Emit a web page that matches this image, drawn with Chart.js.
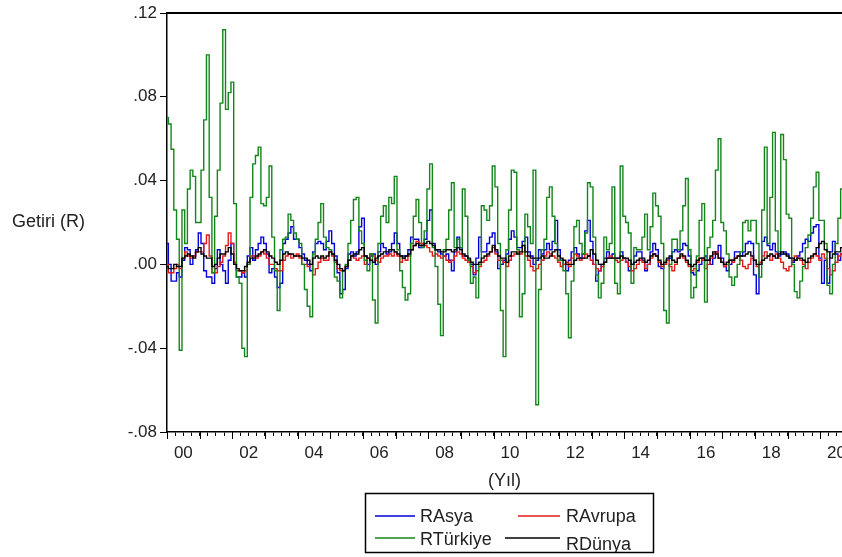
<!DOCTYPE html>
<html>
<head>
<meta charset="utf-8">
<title>Getiri (R)</title>
<script src="https://cdn.jsdelivr.net/npm/chart.js@4.4.1/dist/chart.umd.min.js"></script>
<style>
    html, body { margin: 0; padding: 0; background: #fff; }
    #wrap { width: 842px; height: 557px; }
</style>
</head>
<body>
<div id="wrap"><canvas id="returnChart" width="842" height="557"></canvas></div>
<script>
// monthly returns, 2000M01 onwards (one row per year)
const startYear = 2000;

const rAsya = [
    0.010, 0.000, -0.008, -0.008, -0.004, -0.006, 0.002, 0.008, 0.007, 0.000, 0.004, 0.007,
    0.015, 0.010, -0.003, -0.006, -0.006, -0.009, -0.002, 0.007, 0.000, -0.003, -0.009, 0.002,
    0.010, 0.000, -0.006, -0.006, -0.004, -0.006, 0.004, 0.008, 0.002, 0.007, 0.010, 0.013,
    0.010, 0.005, -0.004, -0.002, -0.006, -0.011, -0.009, 0.010, 0.012, 0.015, 0.018, 0.012,
    0.012, 0.008, 0.005, 0.002, 0.000, -0.003, 0.006, 0.010, 0.011, 0.010, 0.007, 0.011,
    0.016, 0.010, 0.004, -0.004, -0.014, -0.012, -0.002, 0.005, 0.006, 0.004, 0.006, 0.018,
    0.022, 0.004, 0.000, 0.004, 0.005, 0.000, 0.006, 0.010, 0.008, 0.005, 0.006, 0.010,
    0.015, 0.010, 0.004, 0.004, 0.004, 0.007, 0.013, 0.012, 0.012, 0.008, 0.009, 0.012,
    0.021, 0.026, 0.010, 0.007, 0.006, 0.005, 0.004, 0.005, 0.002, -0.003, 0.006, 0.013,
    0.008, 0.004, 0.004, 0.002, 0.000, -0.005, 0.003, 0.013, 0.006, 0.006, 0.010, 0.013,
    0.015, 0.006, -0.002, 0.000, 0.002, 0.005, 0.012, 0.016, 0.013, 0.008, 0.008, 0.011,
    0.013, 0.006, 0.004, 0.000, 0.002, 0.007, 0.005, 0.007, 0.010, 0.007, 0.011, 0.021,
    0.007, 0.002, 0.000, -0.003, 0.002, 0.006, 0.008, 0.005, 0.003, 0.005, 0.016, 0.021,
    0.011, 0.000, -0.008, -0.003, 0.000, 0.003, 0.006, 0.003, 0.005, 0.003, 0.003, 0.006,
    0.003, 0.001, -0.003, 0.000, 0.004, 0.006, 0.006, 0.002, -0.003, 0.000, 0.006, 0.010,
    0.007, -0.001, -0.002, 0.000, 0.002, 0.003, 0.006, 0.007, 0.006, 0.007, 0.010, 0.009,
    0.004, -0.004, -0.005, -0.003, 0.000, 0.003, 0.004, 0.002, 0.000, 0.003, 0.006, 0.009,
    0.003, -0.001, -0.003, 0.000, 0.002, 0.006, 0.006, 0.004, 0.006, 0.010, 0.011, 0.010,
    -0.005, -0.014, 0.000, 0.011, 0.013, 0.009, 0.007, 0.010, 0.006, 0.004, 0.005, 0.006,
    0.005, 0.003, 0.001, 0.002, 0.004, 0.006, 0.010, 0.012, 0.011, 0.015, 0.018, 0.019,
    0.003, -0.009, 0.002, -0.009, 0.006, 0.011, 0.005, 0.002, 0.005
];

const rAvrupa = [
    0.000, -0.004, -0.004, -0.002, 0.000, -0.002, 0.003, 0.006, 0.004, 0.003, 0.004, 0.006,
    0.006, 0.006, 0.010, 0.014, 0.004, -0.004, -0.004, -0.001, 0.001, 0.004, 0.009, 0.015,
    0.010, 0.001, -0.003, -0.003, -0.004, -0.003, 0.000, 0.004, 0.004, 0.003, 0.004, 0.006,
    0.005, 0.003, 0.000, 0.000, -0.002, -0.003, -0.003, 0.002, 0.004, 0.005, 0.003, 0.004,
    0.005, 0.003, 0.000, 0.000, -0.001, 0.000, -0.005, -0.002, 0.001, 0.003, 0.002, 0.002,
    0.006, 0.004, 0.001, -0.002, -0.003, -0.003, -0.001, 0.002, 0.004, 0.003, 0.002, 0.003,
    0.004, 0.000, 0.003, 0.005, 0.004, 0.002, 0.001, 0.003, 0.004, 0.004, 0.005, 0.004,
    0.006, 0.004, 0.001, 0.003, 0.002, 0.004, 0.007, 0.009, 0.011, 0.010, 0.010, 0.009,
    0.008, 0.006, 0.004, 0.005, 0.004, 0.003, 0.004, 0.002, 0.001, 0.002, 0.004, 0.006,
    0.005, 0.003, 0.002, 0.001, -0.001, -0.004, -0.003, -0.001, 0.001, 0.002, 0.004, 0.006,
    0.008, 0.005, 0.002, 0.002, 0.001, -0.001, 0.002, 0.004, 0.005, 0.006, 0.005, 0.006,
    0.004, 0.002, -0.001, -0.003, -0.002, 0.000, 0.002, 0.004, 0.006, 0.005, 0.004, 0.003,
    0.001, -0.001, 0.000, 0.001, -0.001, 0.003, 0.005, 0.004, 0.002, 0.003, 0.005, 0.004,
    0.002, 0.000, -0.002, -0.003, -0.001, 0.001, 0.003, 0.004, 0.003, 0.002, 0.001, 0.002,
    0.003, 0.001, -0.001, -0.003, -0.002, 0.000, 0.002, 0.001, -0.002, 0.000, 0.003, 0.005,
    0.004, 0.001, -0.001, 0.000, 0.002, -0.001, -0.003, 0.000, 0.003, 0.004, 0.003, 0.001,
    -0.001, -0.003, -0.002, 0.001, 0.003, 0.002, -0.002, 0.000, 0.003, 0.005, 0.006, 0.003,
    0.001, -0.001, 0.000, 0.002, 0.001, 0.003, 0.004, 0.002, -0.001, -0.002, 0.000, 0.003,
    0.002, -0.001, 0.001, 0.004, 0.006, 0.004, 0.002, 0.004, 0.005, 0.003, 0.001, -0.002,
    -0.003, -0.001, 0.002, 0.004, 0.003, 0.002, 0.000, -0.002, 0.001, 0.003, 0.005, 0.004,
    0.002, 0.005, 0.003, -0.002, -0.005, -0.003, 0.001, 0.004, 0.005
];

const rTurkiye = [
    0.070, 0.067, 0.055, 0.026, 0.012, -0.041, 0.026, 0.010, 0.036, 0.045, 0.042, 0.020,
    0.020, 0.045, 0.069, 0.100, 0.032, -0.004, 0.023, 0.045, 0.077, 0.112, 0.074, 0.082,
    0.087, 0.029, -0.006, -0.009, -0.040, -0.044, 0.000, 0.032, 0.048, 0.052, 0.056, 0.029,
    0.028, 0.032, 0.047, 0.013, -0.003, -0.022, 0.007, 0.012, 0.013, 0.024, 0.021, 0.015,
    0.012, 0.010, 0.000, -0.012, -0.020, -0.025, 0.005, 0.012, 0.020, 0.029, 0.013, 0.008,
    0.007, 0.005, -0.006, -0.008, -0.016, -0.003, 0.000, 0.010, 0.021, 0.031, 0.032, 0.016,
    0.010, 0.002, -0.003, 0.005, -0.017, -0.028, 0.010, 0.023, 0.028, 0.020, 0.032, 0.029,
    0.042, 0.007, -0.003, -0.011, -0.017, -0.014, 0.010, 0.023, 0.031, 0.020, 0.008, 0.016,
    0.036, 0.048, 0.008, -0.001, -0.019, -0.034, 0.007, 0.012, 0.026, 0.039, 0.008, 0.012,
    0.008, 0.036, 0.023, 0.002, -0.009, -0.006, -0.016, 0.000, 0.028, 0.026, 0.021, 0.028,
    0.047, 0.037, 0.010, -0.022, -0.044, 0.007, 0.026, 0.045, 0.044, 0.007, -0.025, -0.014,
    0.024, 0.018, 0.010, 0.045, -0.067, -0.012, 0.007, 0.012, 0.032, 0.037, 0.023, 0.010,
    0.002, 0.002, -0.003, -0.014, -0.035, -0.008, 0.018, 0.021, 0.010, 0.005, 0.015, 0.039,
    0.037, 0.013, -0.005, -0.016, -0.009, 0.013, 0.007, 0.010, 0.037, -0.009, -0.014, 0.047,
    0.023, 0.020, 0.015, -0.009, 0.008, 0.007, 0.007, 0.013, 0.024, 0.007, 0.018, 0.034,
    0.028, 0.023, 0.010, -0.022, -0.028, 0.000, 0.012, 0.012, 0.007, 0.016, 0.028, 0.041,
    0.007, -0.016, -0.011, 0.004, 0.021, 0.029, -0.018, 0.008, 0.013, 0.021, 0.045, 0.060,
    0.020, 0.016, 0.005, -0.006, -0.010, -0.006, 0.000, 0.006, 0.020, 0.021, 0.016, 0.021,
    0.021, 0.010, -0.006, 0.026, 0.056, 0.010, 0.032, 0.063, 0.016, 0.006, 0.062, 0.050,
    0.024, 0.022, 0.000, -0.013, -0.016, -0.008, -0.001, 0.008, 0.014, 0.022, 0.037, 0.044,
    0.021, 0.021, 0.010, -0.010, -0.014, 0.000, 0.010, 0.022, 0.036
];

const rDunya = [
    -0.001, -0.002, -0.002, 0.000, -0.001, -0.001, 0.003, 0.004, 0.005, 0.004, 0.003, 0.006,
    0.008, 0.005, 0.004, 0.003, 0.003, -0.001, 0.000, 0.003, 0.005, 0.005, 0.006, 0.008,
    0.005, 0.000, -0.002, -0.003, -0.003, -0.001, 0.001, 0.003, 0.003, 0.004, 0.005, 0.006,
    0.007, 0.006, 0.004, 0.003, 0.001, 0.000, 0.002, 0.005, 0.006, 0.005, 0.005, 0.004,
    0.004, 0.004, 0.003, 0.003, 0.002, 0.000, 0.003, 0.004, 0.003, 0.004, 0.003, 0.004,
    0.006, 0.005, 0.002, 0.000, -0.002, -0.003, -0.001, 0.002, 0.004, 0.005, 0.005, 0.007,
    0.008, 0.004, 0.003, 0.002, 0.001, 0.003, 0.004, 0.005, 0.006, 0.006, 0.007, 0.007,
    0.006, 0.005, 0.004, 0.003, 0.004, 0.005, 0.007, 0.009, 0.010, 0.009, 0.009, 0.010,
    0.011, 0.010, 0.009, 0.007, 0.007, 0.006, 0.006, 0.007, 0.007, 0.006, 0.007, 0.008,
    0.007, 0.005, 0.004, 0.003, 0.001, 0.000, 0.000, 0.001, 0.003, 0.004, 0.005, 0.006,
    0.009, 0.007, 0.004, 0.003, 0.003, 0.001, 0.004, 0.006, 0.006, 0.005, 0.006, 0.009,
    0.006, 0.004, 0.003, 0.003, 0.003, 0.003, 0.004, 0.003, 0.003, 0.004, 0.006, 0.007,
    0.004, 0.003, 0.002, 0.000, 0.000, 0.000, 0.002, 0.003, 0.003, 0.003, 0.003, 0.004,
    0.007, 0.005, 0.002, 0.000, 0.000, 0.001, 0.003, 0.003, 0.003, 0.003, 0.003, 0.004,
    0.003, 0.003, 0.002, 0.000, 0.001, 0.002, 0.003, 0.003, 0.001, 0.002, 0.004, 0.005,
    0.004, 0.002, 0.000, 0.001, 0.003, 0.004, 0.002, 0.001, 0.003, 0.005, 0.004, 0.002,
    0.000, -0.001, 0.000, 0.002, 0.003, 0.003, 0.002, 0.002, 0.004, 0.006, 0.005, 0.003,
    0.001, 0.000, 0.001, 0.002, 0.002, 0.003, 0.004, 0.004, 0.004, 0.005, 0.006, 0.004,
    0.002, 0.000, 0.000, 0.002, 0.003, 0.004, 0.005, 0.004, 0.003, 0.005, 0.006, 0.005,
    0.004, 0.003, 0.003, 0.002, 0.003, 0.003, 0.002, 0.001, 0.003, 0.004, 0.005, 0.008,
    0.010, 0.011, 0.007, 0.006, 0.003, 0.005, 0.006, 0.006, 0.008
];

// x-axis labels sit in the middle of every second year
const labelYears = [2000, 2002, 2004, 2006, 2008, 2010, 2012, 2014, 2016, 2018, 2020];
const yearLabels = ['00', '02', '04', '06', '08', '10', '12', '14', '16', '18', '20'];
const yTicks = [-0.08, -0.04, 0, 0.04, 0.08, 0.12];

const seriesNames = ['RAsya', 'RAvrupa', 'RTürkiye', 'RDünya'];
const seriesColors = ['#0000d8', '#e41a1a', '#13861a', '#000000'];

function toPoints(values) {
    return values.map((v, i) => ({ x: startYear + i / 12, y: v }));
}

const FONT = 'Liberation Sans, Arial, sans-serif';
Chart.defaults.font.family = FONT;
Chart.defaults.color = '#222';

// top frame line, long year ticks, y title, x title and the boxed legend
const eviewsDecor = {
    id: 'eviewsDecor',
    afterDraw(chart) {
        const { ctx, chartArea: a, scales: { x } } = chart;
        ctx.save();
        ctx.strokeStyle = '#000';

        ctx.lineWidth = 2;
        ctx.beginPath();
        ctx.moveTo(a.left, a.top);
        ctx.lineTo(a.right, a.top);
        ctx.stroke();

        ctx.lineWidth = 1;
        ctx.beginPath();
        for (let yr = startYear; yr <= x.max; yr++) {
            const px = Math.round(x.getPixelForValue(yr)) + 0.5;
            ctx.moveTo(px, a.bottom);
            ctx.lineTo(px, a.bottom + 7);
        }
        ctx.stroke();

        ctx.fillStyle = '#222';
        ctx.font = '18px ' + FONT;
        ctx.textBaseline = 'middle';
        ctx.textAlign = 'left';
        ctx.fillText('Getiri (R)', 12, (a.top + a.bottom) / 2);

        ctx.textAlign = 'center';
        ctx.fillText('(Yıl)', (a.left + a.right) / 2, 481);

        // legend box
        const box = { left: 365.5, top: 493.5, width: 288, height: 59 };
        const items = [
            { i: 0, x0: 375, x1: 415, tx: 420, ly: 516, ty: 517 },
            { i: 1, x0: 518, x1: 560, tx: 566, ly: 516, ty: 517 },
            { i: 2, x0: 375, x1: 415, tx: 420, ly: 538, ty: 540 },
            { i: 3, x0: 505, x1: 560, tx: 566, ly: 538, ty: 545 }
        ];
        ctx.save();
        ctx.beginPath();
        ctx.rect(box.left, box.top, box.width, box.height);
        ctx.clip();
        ctx.textAlign = 'left';
        ctx.font = '18px ' + FONT;
        items.forEach(it => {
            ctx.strokeStyle = seriesColors[it.i];
            ctx.lineWidth = 1.5;
            ctx.beginPath();
            ctx.moveTo(it.x0, it.ly);
            ctx.lineTo(it.x1, it.ly);
            ctx.stroke();
            ctx.fillStyle = '#222';
            ctx.fillText(seriesNames[it.i], it.tx, it.ty);
        });
        ctx.restore();
        ctx.strokeStyle = '#000';
        ctx.lineWidth = 1.5;
        ctx.strokeRect(box.left, box.top, box.width, box.height);
        ctx.restore();
    }
};

const allSeries = [rAsya, rAvrupa, rTurkiye, rDunya];
const drawOrder = [4, 3, 2, 1]; // RDünya ends up on top

new Chart(document.getElementById('returnChart'), {
    type: 'line',
    data: {
        datasets: allSeries.map((vals, k) => ({
            label: seriesNames[k],
            data: toPoints(vals),
            borderColor: seriesColors[k],
            borderWidth: 1.4,
            pointRadius: 0,
            stepped: 'middle',
            fill: false,
            order: drawOrder[k]
        }))
    },
    options: {
        responsive: false,
        animation: false,
        layout: { padding: { top: 13, left: 0, right: 0, bottom: 0 } },
        plugins: {
            legend: { display: false },
            tooltip: { enabled: false }
        },
        scales: {
            x: {
                type: 'linear',
                min: startYear,
                max: startYear + (rTurkiye.length - 1) / 12,
                afterBuildTicks: (scale) => {
                    const t = [];
                    for (let v = startYear; v <= scale.max + 1e-9; v += 0.25) t.push({ value: v });
                    scale.ticks = t;
                },
                afterFit: (scale) => {
                    scale.height = 125;
                    scale.paddingLeft = 0;
                    scale.paddingRight = 0;
                },
                ticks: {
                    autoSkip: false,
                    maxRotation: 0,
                    minRotation: 0,
                    padding: 7,
                    font: { size: 17 },
                    callback: (value) => {
                        const idx = labelYears.indexOf(value - 0.5);
                        return idx >= 0 ? yearLabels[idx] : '';
                    }
                },
                grid: { drawOnChartArea: false, tickLength: 4, color: '#000' },
                border: { display: true, color: '#000', width: 1.5 }
            },
            y: {
                min: yTicks[0],
                max: yTicks[yTicks.length - 1],
                afterBuildTicks: (scale) => {
                    scale.ticks = yTicks.map(v => ({ value: v }));
                },
                afterFit: (scale) => {
                    scale.width = 167;
                    scale.paddingTop = 0;
                    scale.paddingBottom = 0;
                },
                ticks: {
                    padding: 3,
                    font: { size: 17 },
                    callback: (v) => {
                        const s = Math.abs(v).toFixed(2).replace(/^0/, '');
                        return (v < 0 ? '-' : '') + s;
                    }
                },
                grid: { drawOnChartArea: false, tickLength: 7, color: '#000' },
                border: { display: true, color: '#000', width: 1.5 }
            }
        }
    },
    plugins: [eviewsDecor]
});
</script>
</body>
</html>
